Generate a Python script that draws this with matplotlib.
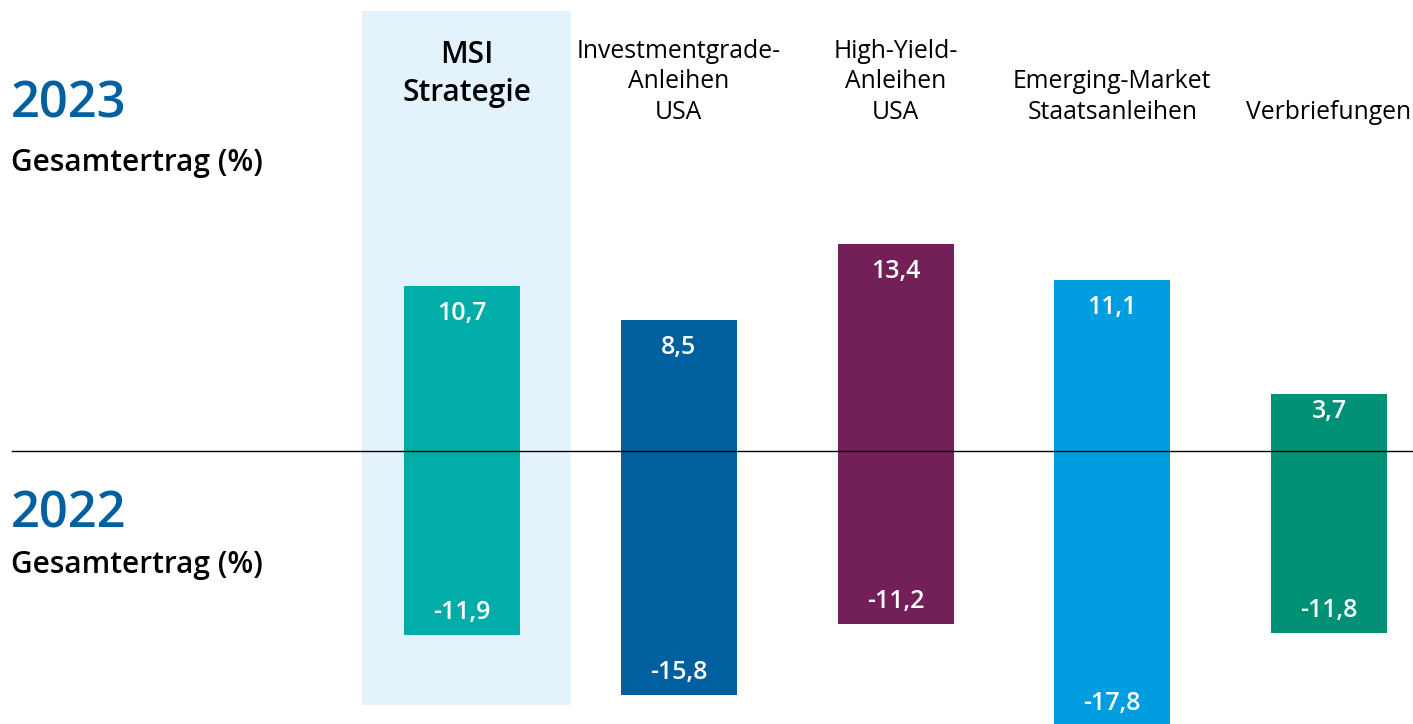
import matplotlib
matplotlib.use("Agg")
import matplotlib.pyplot as plt
from matplotlib.patches import Rectangle

plt.rcParams['font.family'] = ['Open Sans', 'DejaVu Sans']

categories = ["MSI\nStrategie", "Investmentgrade-\nAnleihen\nUSA", "High-Yield-\nAnleihen\nUSA",
              "Emerging-Market\nStaatsanleihen", "Verbriefungen"]
values_2023 = [10.7, 8.5, 13.4, 11.1, 3.7]
values_2022 = [-11.9, -15.8, -11.2, -17.8, -11.8]
colors = ["#00ADA8", "#005F9E", "#722057", "#009EE0", "#009076"]
year_labels = ["2023", "2022"]
subtitle = "Gesamtertrag (%)"

W, H = 1413, 724
fig = plt.figure(figsize=(W / 100, H / 100), dpi=100)
ax = fig.add_axes([0, 0, 1, 1])

px_per_unit = 15.43
zero_px = 451
ax.set_ylim(-(H - zero_px) / px_per_unit, zero_px / px_per_unit)
first_center = 462
step = 216.75
ax.set_xlim(-first_center / step, (W - first_center) / step)
ax.axis('off')

# highlight panel behind MSI strategy
x0 = (362 - first_center) / step
x1 = (571 - first_center) / step
y0 = (zero_px - 705) / px_per_unit
y1 = (zero_px - 11) / px_per_unit
ax.add_patch(Rectangle((x0, y0), x1 - x0, y1 - y0, facecolor="#E4F2FB", edgecolor="none", zorder=0))

xs = list(range(len(categories)))
bw = 116 / step
ax.bar(xs, values_2023, width=bw, color=colors, zorder=2)
ax.bar(xs, values_2022, width=bw, color=colors, zorder=2)

ax.axhline(0, xmin=12 / W, xmax=1, color="black", lw=1.0, zorder=3)

def fmt(v):
    return f"{v:.1f}".replace(".", ",")

for x, v in zip(xs, values_2023):
    bar_px = v * px_per_unit
    off = 15 if bar_px > 80 else 5
    ax.annotate(fmt(v), (x, v), xytext=(0, -off * 0.72), textcoords='offset points',
                ha='center', va='top', color='white', fontsize=18, fontweight='semibold',
                zorder=4, annotation_clip=False)
for x, v in zip(xs, values_2022):
    ax.annotate(fmt(v), (x, v), xytext=(0, 10 * 0.72), textcoords='offset points',
                ha='center', va='bottom', color='white', fontsize=18, fontweight='semibold',
                zorder=4, annotation_clip=False)

# category labels
label_bottom = (zero_px - 125) / px_per_unit
for x, c in zip(xs, categories):
    if x == 0:
        ax.text((x0 + x1) / 2, (zero_px - 108) / px_per_unit, c, ha='center', va='bottom',
                fontsize=21.5, fontweight='semibold', color='black', linespacing=1.36)
    else:
        ax.text(x, label_bottom, c, ha='center', va='bottom', fontsize=17.8,
                color='black', linespacing=1.29)

# left side labels
def fy(p):
    return 1 - p / H

fig.text(11 / W, fy(105), year_labels[0], ha='left', va='center', fontsize=36.5,
         fontweight='semibold', color='#0060A0')
fig.text(11 / W, fy(163), subtitle, ha='left', va='center', fontsize=21.5,
         fontweight='semibold', color='black')
fig.text(11 / W, fy(514), year_labels[1], ha='left', va='center', fontsize=36.5,
         fontweight='semibold', color='#0060A0')
fig.text(11 / W, fy(565), subtitle, ha='left', va='center', fontsize=21.5,
         fontweight='semibold', color='black')

fig.savefig("out.png", dpi=100)
